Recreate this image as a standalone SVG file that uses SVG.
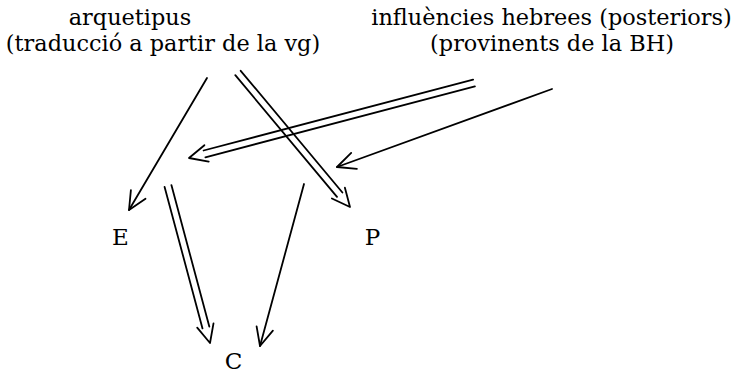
<svg xmlns="http://www.w3.org/2000/svg" width="735" height="374" viewBox="0 0 735 374">
<style>
  .t { font-family: "DejaVu Serif", "Liberation Serif", serif; font-size: 22.4px; fill: #000; text-anchor: middle; }
  .n { font-family: "DejaVu Serif", "Liberation Serif", serif; font-size: 23px; fill: #000; text-anchor: middle; }
  .ln { fill: none; stroke: #000; stroke-width: 1.8; stroke-linecap: round; stroke-linejoin: round; }
</style>
<rect width="735" height="374" fill="#fff"/>
<g id="arquetipus">
  <text class="t" x="130" y="25">arquetipus</text>
  <text class="t" x="163" y="51">(traducció a partir de la vg)</text>
</g>
<g id="influencies">
  <text class="t" x="551.5" y="25">influències hebrees (posteriors)</text>
  <text class="t" x="552" y="51">(provinents de la BH)</text>
</g>
<g id="E"><text class="n" x="120.5" y="245">E</text></g>
<g id="P"><text class="n" x="372.5" y="245">P</text></g>
<g id="C"><text class="n" x="233.5" y="368.5">C</text></g>
<g id="connectors">
  <!-- arquetipus -> E (single) -->
  <path class="ln" d="M207 78 L129 210"/>
  <path class="ln" d="M145.5 198.7 L129 210 L130.9 190.1"/>
  <!-- arquetipus -> P (double) -->
  <path class="ln" d="M240.7 70.8 L342.4 192.5 M235.3 75.2 L337 196.9"/>
  <path class="ln" d="M344.9 187.7 L350 207 L331.9 198.5"/>
  <!-- influencies -> E region (double) -->
  <path class="ln" d="M474.9 86.4 L205.4 157.3 M473.1 79.6 L203.6 150.5"/>
  <path class="ln" d="M208.7 161.6 L189 158 L204.4 145.2"/>
  <!-- influencies -> P region (single) -->
  <path class="ln" d="M552 89 L337 167"/>
  <path class="ln" d="M356.9 168.8 L337 167 L351.2 152.9"/>
  <!-- E -> C (double) -->
  <path class="ln" d="M171.4 185.1 L209.3 326.6 M164.6 186.9 L202.5 328.4"/>
  <path class="ln" d="M213.5 323.3 L210 343 L197.2 327.7"/>
  <!-- P -> C (single) -->
  <path class="ln" d="M304 184 L260 346"/>
  <path class="ln" d="M272.9 330.7 L260 346 L256.6 326.3"/>
</g>
</svg>
